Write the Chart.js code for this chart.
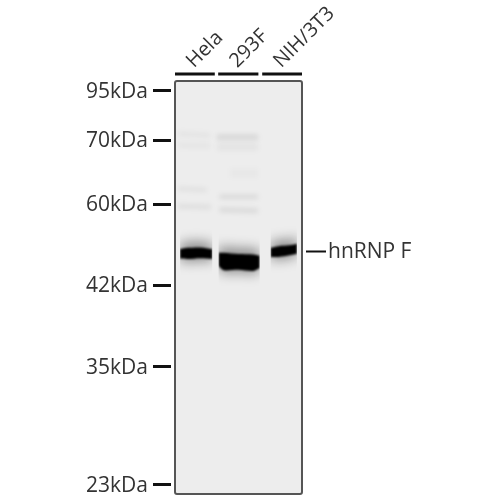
<!DOCTYPE html>
<html><head><meta charset="utf-8">
<style>html,body{margin:0;padding:0;background:#fff}canvas{display:block}</style>
<script src="https://cdn.jsdelivr.net/npm/chart.js@4"></script></head>
<body><canvas id="c" width="500" height="500"></canvas>
<script>
const markerKDa=[95,70,60,42,35,23];
const markerMigration=[2.4,14.3,29.8,49.4,69.2,97.8];
const lanes=['Hela','293F','NIH/3T3'];
const laneCenters=[0.47,1.49,2.53];
const target='hnRNP F';
const targetMigration=41.3;

const helaX=[0.12,0.3,0.6,0.88];
const helaTop=[40.7,40.4,40.3,40.7];
const helaBot=[43.0,43.1,42.9,43.1];
const f293X=[1.03,1.15,1.5,1.85,2.0];
const f293Top=[41.6,41.6,41.9,42.0,42.3];
const f293Bot=[44.8,45.8,45.7,46.0,45.3];
const nihX=[2.26,2.45,2.7,2.88];
const nihTop=[40.4,40.0,39.8,39.4];
const nihBot=[42.6,42.6,42.2,41.8];

const smudgeBands=[
 {x:[0.07,0.83],y:[12.8,13.2],w:5,a:.04},
 {x:[0.07,0.83],y:[15.5,15.7],w:6,a:.03},
 {x:[0.99,1.96],y:[13.6,13.6],w:5,a:.1},
 {x:[0.99,1.96],y:[16.0,16.0],w:7,a:.04},
 {x:[1.3,1.96],y:[22.3,22.3],w:10,a:.02},
 {x:[0.07,0.75],y:[26.0,26.4],w:4,a:.06},
 {x:[0.07,0.85],y:[30.3,30.5],w:5,a:.06},
 {x:[1.05,1.96],y:[28.0,28.0],w:4,a:.09},
 {x:[1.05,1.96],y:[31.2,31.4],w:5,a:.08}
];

const pair=(x,y)=>x.map((v,i)=>({x:v,y:y[i]}));
const edge=(x,y)=>({type:'line',data:pair(x,y),borderWidth:0,pointRadius:0,tension:.3,borderColor:'#000'});
const halo=(x,top,bot)=>[
 Object.assign(edge(x,top.map(v=>v-1.5)),{fill:'+1',backgroundColor:'rgba(0,0,0,.38)',blur:6}),
 edge(x,bot.map(v=>v+.8))];
const core=(x,top,bot)=>[
 Object.assign(edge(x,top),{fill:'+1',backgroundColor:'#000',blur:1.3}),
 edge(x,bot)];
const datasets=[];
[[nihX,nihTop,nihBot],[f293X,f293Top,f293Bot],[helaX,helaTop,helaBot]].forEach(b=>{
  datasets.push(...core(...b));datasets.push(...halo(...b));});
smudgeBands.forEach(s=>datasets.push({type:'line',data:pair(s.x,s.y),pointRadius:0,borderWidth:s.w,
  borderColor:`rgba(0,0,0,${s.a})`,blur:2.5}));
const laneBars=[[0,0.94],[1.02,1.97],[2.06,3]];
laneBars.forEach(b=>datasets.push({type:'line',data:pair(b,[-1.7,-1.7]),pointRadius:0,borderWidth:3,borderColor:'#111',borderCapStyle:'butt',clip:false}));

const base='blur(0.35px)';
const setFilter=(ch,i)=>{const d=ch.data.datasets[i];ch.ctx.filter=d&&d.blur?`blur(${d.blur}px)`:base;};
const gelPlugin={id:'gel',
 beforeDraw(ch){ch.ctx.filter=base;},
 beforeDatasetsDraw(ch){const {ctx,chartArea:a}=ch;ctx.save();ctx.fillStyle='#ededed';ctx.fillRect(a.left,a.top,a.width,a.height);ctx.restore();
   setFilter(ch,ch.data.datasets.length-1);},
 afterDatasetDraw(ch,args){setFilter(ch,args.index-1);},
 afterDatasetsDraw(ch){const {ctx,chartArea:a}=ch;ctx.save();ctx.filter='none';
   ctx.strokeStyle='#fff';ctx.lineWidth=3;ctx.strokeRect(a.left-2.5,a.top-2.5,a.width+5,a.height+5);
   ctx.strokeStyle='#555';ctx.lineWidth=2;ctx.beginPath();ctx.roundRect(a.left,a.top,a.width,a.height,2);ctx.stroke();ctx.restore();ctx.filter=base;},
 afterDraw(ch){ch.ctx.filter='none';}
};
const font={family:'"Open Sans"',size:21};
const laneFont={family:'"Open Sans"',size:20};
new Chart(document.getElementById('c'),{
 type:'line',
 data:{datasets},
 plugins:[gelPlugin],
 options:{responsive:false,animation:false,devicePixelRatio:1,
  layout:{padding:{bottom:6}},
  plugins:{legend:{display:false},tooltip:{enabled:false}},
  scales:{
   x:{type:'linear',position:'top',min:0,max:3,
    afterBuildTicks(s){s.ticks=laneCenters.map(v=>({value:v}));},
    afterFit(s){s.height=81;s.paddingLeft=0;s.paddingRight=0;},
    grid:{display:false},border:{display:false},
    ticks:{minRotation:45,maxRotation:45,autoSkip:false,color:'#333',font:laneFont,padding:0,labelOffset:12,
      callback(v){return lanes[laneCenters.indexOf(v)];}}},
   y:{type:'linear',reverse:true,min:0,max:100,position:'left',
    afterBuildTicks(s){s.ticks=markerMigration.map(v=>({value:v}));},
    afterFit(s){s.width=175;s.paddingTop=0;s.paddingBottom=0;},
    grid:{drawOnChartArea:false,drawTicks:true,tickLength:22,tickWidth:3,tickColor:'#111'},border:{display:false},
    ticks:{autoSkip:false,color:'#333',font,padding:5,labelOffset:1,
      callback(v){return markerKDa[markerMigration.indexOf(v)]+'kDa';}}},
   y2:{type:'linear',reverse:true,min:0,max:100,position:'right',
    afterBuildTicks(s){s.ticks=[{value:targetMigration}];},
    afterFit(s){s.width=198;s.paddingTop=0;s.paddingBottom=0;},
    grid:{drawOnChartArea:false,drawTicks:true,tickLength:24,tickWidth:2,tickColor:'#111'},border:{display:false},
    ticks:{autoSkip:false,color:'#333',font,padding:2,labelOffset:0,callback(){return target;}}}
  }}
});
</script></body></html>
